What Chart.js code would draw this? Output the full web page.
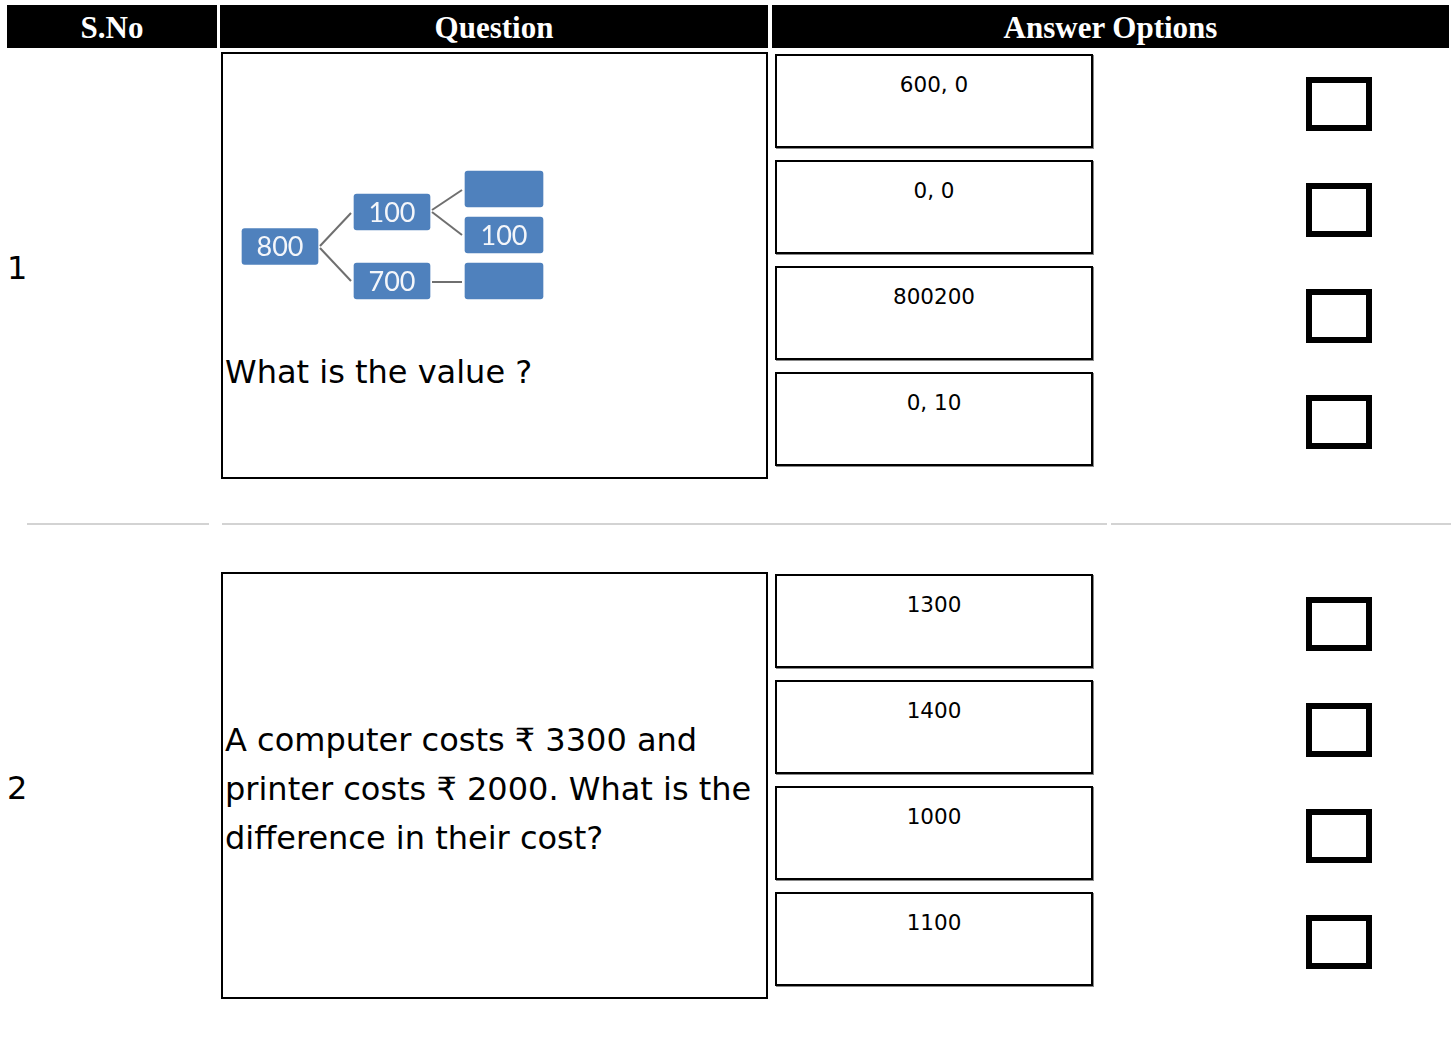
<!DOCTYPE html>
<html>
<head>
<meta charset="utf-8">
<script src="https://cdn.jsdelivr.net/npm/chart.js@4/dist/chart.umd.min.js"></script>
<style>
  html, body { margin:0; padding:0; background:#fff; }
  body { width:1455px; height:1042px; position:relative; overflow:hidden; font-family:"DejaVu Sans", sans-serif; color:#000; }
  .hd { position:absolute; top:5px; height:43px; background:#000; color:#fff; font-family:"Liberation Serif", serif; font-weight:bold; font-size:31px; line-height:45px; text-align:center; }
  .sno { position:absolute; left:7px; font-size:32px; line-height:49px; }
  .qbox { position:absolute; left:221px; width:543px; height:423px; border:2px solid #000; }
  .qtext { position:absolute; left:225px; width:535px; font-size:32px; line-height:49px; }
  .abox { position:absolute; left:775px; width:314px; height:90px; border:2px solid #000; box-shadow:1px 1px 0 #888; text-align:center; font-size:21.5px; line-height:22px; }
  .abox span { display:block; padding-top:18px; }
  .cb { position:absolute; left:1306px; width:66px; height:54px; border:6px solid #000; box-sizing:border-box; }
  .sep { position:absolute; top:523px; height:2px; background:#d3d3d3; }
  #treewrap { position:absolute; left:225px; top:130px; width:365px; height:205px; }
</style>
</head>
<body>
<div class="hd" style="left:7px;width:210px;">S.No</div>
<div class="hd" style="left:220px;width:548px;">Question</div>
<div class="hd" style="left:772px;width:677px;">Answer Options</div>
<div id="rows"></div>
<div class="sep" style="left:27px;width:182px;"></div>
<div class="sep" style="left:222px;width:885px;"></div>
<div class="sep" style="left:1111px;width:340px;"></div>
<div id="treewrap"><canvas id="tree" width="365" height="205"></canvas></div>
<script>
// ---- table content ----
const serialNumbers = ["1", "2"];
const questionTexts = [
  "What is the value ?",
  "A computer costs \u20B9 3300 and printer costs \u20B9 2000. What is the difference in their cost?"
];
const answerOptionsQ1 = ["600, 0", "0, 0", "800200", "0, 10"];
const answerOptionsQ2 = ["1300", "1400", "1000", "1100"];

// ---- tree diagram (question 1) ----
const nodeLabels = ["800", "100", "700", "", "100", ""];
const nodeStart  = [17, 129, 129, 240, 240, 240];
const nodeEnd    = [93, 205, 205, 318, 318, 318];
const nodeLevel  = [116.5, 82, 151, 59, 105, 151];
const edgeFrom   = [[95, 116], [95, 118], [207, 80], [207, 82], [207, 152]];
const edgeTo     = [[126, 83], [126, 151], [237, 60], [237, 105], [237, 152]];

// ---- layout of rows ----
const rowTop = [0, 520];
const rows = document.getElementById('rows');
function add(cls, style, html) {
  const d = document.createElement('div');
  d.className = cls; d.style.cssText = style; d.innerHTML = html || '';
  rows.appendChild(d); return d;
}
const answers = [answerOptionsQ1, answerOptionsQ2];
serialNumbers.forEach((s, i) => {
  const t = rowTop[i];
  add('sno', 'top:' + (244 + t) + 'px;', s);
  add('qbox', 'top:' + (52 + t) + 'px;');
  answers[i].forEach((a, j) => {
    add('abox', 'top:' + (54 + t + 106 * j) + 'px;', '<span>' + a + '</span>');
    add('cb', 'top:' + (77 + t + 106 * j) + 'px;');
  });
});
add('qtext', 'top:348px;', questionTexts[0]);
add('qtext', 'top:716px;', questionTexts[1]);

// ---- chart ----
const edgeDatasets = edgeFrom.map((f, k) => ({
  type: 'line',
  indexAxis: 'x',
  data: [{x: f[0], y: f[1]}, {x: edgeTo[k][0], y: edgeTo[k][1]}],
  borderColor: '#6f6f6f',
  borderWidth: 2,
  pointRadius: 0,
  fill: false,
  order: 2
}));
const labelPlugin = {
  id: 'nodeLabels',
  afterDatasetsDraw(chart) {
    const meta = chart.getDatasetMeta(0);
    const ctx = chart.ctx;
    ctx.save();
    ctx.fillStyle = '#f4f6fa';
    ctx.font = '27px Lato';
    ctx.textAlign = 'center';
    ctx.textBaseline = 'middle';
    meta.data.forEach((el, i) => {
      const p = el.getProps(['x', 'y', 'base'], true);
      ctx.fillText(nodeLabels[i], (p.x + p.base) / 2, p.y + 1);
    });
    ctx.restore();
  }
};
new Chart(document.getElementById('tree'), {
  type: 'bar',
  data: {
    datasets: [{
      type: 'bar',
      data: nodeLevel.map((y, i) => ({y: y, x: [nodeStart[i], nodeEnd[i]]})),
      backgroundColor: '#4f81bd',
      borderRadius: 3,
      borderSkipped: false,
      barThickness: 36,
      order: 1
    }].concat(edgeDatasets)
  },
  options: {
    indexAxis: 'y',
    responsive: false,
    animation: false,
    layout: { padding: 0 },
    plugins: { legend: { display: false }, tooltip: { enabled: false } },
    scales: {
      x: { type: 'linear', min: 0, max: 365, offset: false, display: false },
      y: { type: 'linear', min: 0, max: 205, reverse: true, offset: false, display: false }
    }
  },
  plugins: [labelPlugin]
});
</script>
</body>
</html>
